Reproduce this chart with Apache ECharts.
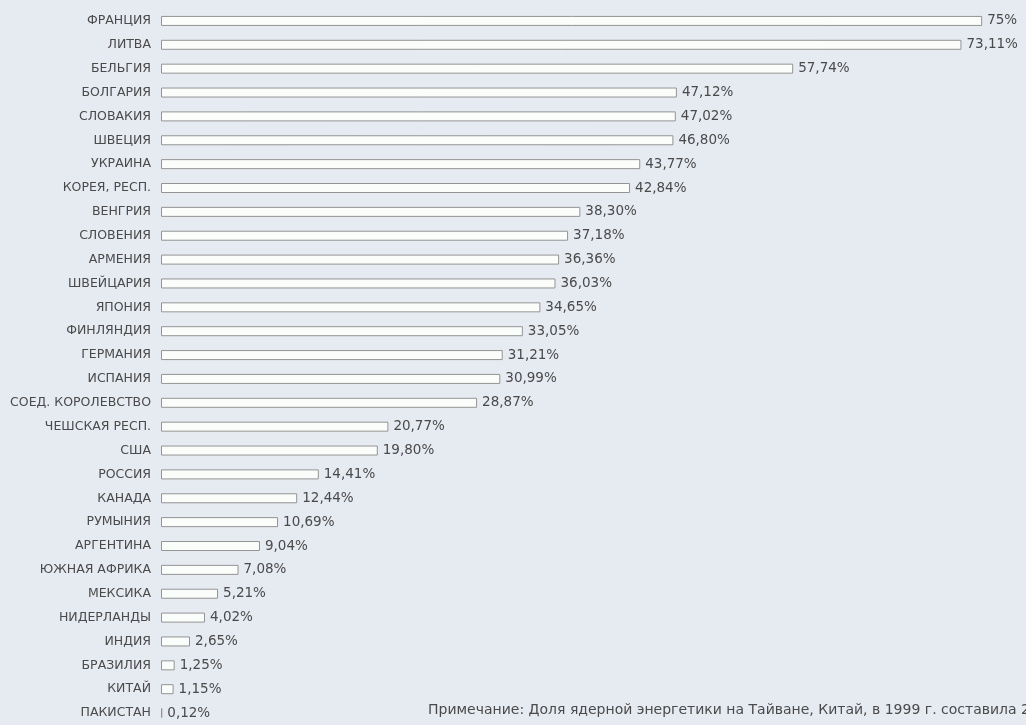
<!DOCTYPE html>
<html><head><meta charset="utf-8">
<script src="https://cdn.jsdelivr.net/npm/echarts@6/dist/echarts.min.js"></script>
<style>html,body{margin:0;padding:0;background:#e6eaf1;}#c{width:1026px;height:725px;}</style>
</head><body><div id="c"></div>
<script>
const countries = ["ФРАНЦИЯ","ЛИТВА","БЕЛЬГИЯ","БОЛГАРИЯ","СЛОВАКИЯ","ШВЕЦИЯ","УКРАИНА","КОРЕЯ, РЕСП.","ВЕНГРИЯ","СЛОВЕНИЯ","АРМЕНИЯ","ШВЕЙЦАРИЯ","ЯПОНИЯ","ФИНЛЯНДИЯ","ГЕРМАНИЯ","ИСПАНИЯ","СОЕД. КОРОЛЕВСТВО","ЧЕШСКАЯ РЕСП.","США","РОССИЯ","КАНАДА","РУМЫНИЯ","АРГЕНТИНА","ЮЖНАЯ АФРИКА","МЕКСИКА","НИДЕРЛАНДЫ","ИНДИЯ","БРАЗИЛИЯ","КИТАЙ","ПАКИСТАН"];
const shares = [75,73.11,57.74,47.12,47.02,46.80,43.77,42.84,38.30,37.18,36.36,36.03,34.65,33.05,31.21,30.99,28.87,20.77,19.80,14.41,12.44,10.69,9.04,7.08,5.21,4.02,2.65,1.25,1.15,0.12];
const note = "Примечание: Доля ядерной энергетики на Тайване, Китай, в 1999 г. составила 2";

const chart = echarts.init(document.getElementById('c'));
const fmt = v => Number.isInteger(v) ? v + '%' : v.toFixed(2).replace('.', ',') + '%';
const FF = '"DejaVu Sans", "Liberation Sans", sans-serif';
chart.setOption({
  backgroundColor: '#e6eaf1',
  animation: false,
  grid: {left: 161, right: 11, top: 9, height: 720},
  xAxis: {type: 'value', min: 0, max: 78, show: false},
  yAxis: {
    type: 'category', data: countries, inverse: true,
    axisLine: {show: false}, axisTick: {show: false}, splitLine: {show: false},
    axisLabel: {color: '#4a4a4a', fontSize: 12.5, fontFamily: FF, margin: 10}
  },
  series: [{
    type: 'bar', data: shares, barWidth: 10,
    itemStyle: {color: '#fafdfa', borderColor: '#949494', borderWidth: 1},
    label: {show: true, position: 'right', distance: 5, color: '#4a4a4a', fontSize: 13.5,
      fontFamily: FF, formatter: p => fmt(p.value)}
  }],
  graphic: [{type: 'text', left: 428, top: 703,
    style: {text: note, fill: '#4a4a4a', font: '14px "DejaVu Sans", sans-serif'}}]
});
</script></body></html>
